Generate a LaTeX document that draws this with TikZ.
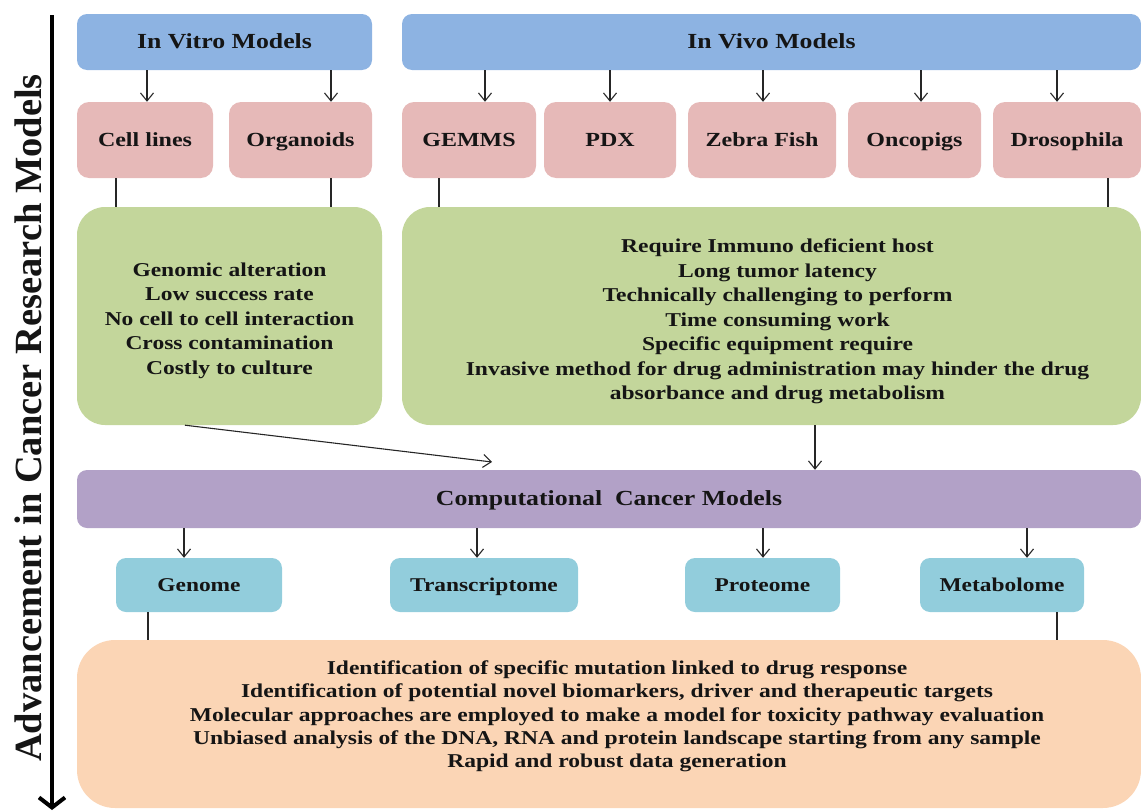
\documentclass[tikz,border=0pt]{standalone}
\usepackage{fontspec}
\setmainfont{Liberation Serif}[FakeStretch=1.2]
\newfontfamily\sidefont{Liberation Serif}
\usetikzlibrary{arrows.meta}
\definecolor{cblue}{HTML}{8DB3E2}
\definecolor{cpink}{HTML}{E6B9B8}
\definecolor{cgreen}{HTML}{C3D69B}
\definecolor{cpurple}{HTML}{B2A1C7}
\definecolor{ccyan}{HTML}{92CDDC}
\definecolor{corange}{HTML}{FBD5B5}
\definecolor{txt}{HTML}{151515}
\tikzset{
  box/.style={draw=none, inner sep=0pt, align=center, text=txt},
  oneline/.style={text height=13.6pt, text depth=0pt},
  titlebox/.style={box, oneline, rounded corners=10pt, fill=cblue, minimum height=56pt, font=\fontsize{21.5}{24}\selectfont\bfseries},
  modelbox/.style={box, oneline, rounded corners=12pt, fill=cpink, minimum height=76pt, font=\fontsize{20}{24}\selectfont\bfseries},
  notebox/.style={box, rounded corners=28pt, fill=cgreen, minimum height=218pt},
  notetext/.style={box, font=\fontsize{19.6}{24.5}\selectfont\bfseries},
  compbox/.style={box, oneline, rounded corners=10pt, fill=cpurple, minimum height=58pt, font=\fontsize{21.5}{24}\selectfont\bfseries},
  omicbox/.style={box, oneline, rounded corners=10pt, fill=ccyan, minimum height=54pt, font=\fontsize{19.5}{24}\selectfont\bfseries},
  outbox/.style={box, rounded corners=38pt, fill=corange, minimum height=168pt},
  outtext/.style={box, font=\fontsize{19.6}{23.3}\selectfont\bfseries},
  arr/.style={draw=black!85, line width=1.1pt, -{Straight Barb[length=8pt,width=13pt]}},
  link/.style={draw=black!85, line width=1.1pt},
}
\begin{document}
\begin{tikzpicture}[x=1pt,y=-1pt]
\useasboundingbox (0,0) rectangle (1141,811);
% side axis
\coordinate (axtop) at (52,15);
\coordinate (axbot) at (52,810);
\draw[line width=4pt, -{Straight Barb[length=10pt,width=26pt]}] (axtop) -- (axbot);
\node[rotate=90, anchor=base, inner sep=0pt, text=txt, font=\sidefont\fontsize{38.5}{40}\selectfont\bfseries] (side) at (41,418) {Advancement in Cancer Research Models};
% top row
\node[titlebox, minimum width=295pt] (vitro) at (224.5,42) {In Vitro Models};
\node[titlebox, minimum width=739pt] (vivo) at (771.5,42) {In Vivo Models};
% model boxes
\node[modelbox, minimum width=136pt] (cell) at (145,140) {Cell lines};
\node[modelbox, minimum width=143pt] (org) at (300.5,140) {Organoids};
\node[modelbox, minimum width=134pt] (gem) at (469,140) {GEMMS};
\node[modelbox, minimum width=132pt] (pdx) at (610,140) {PDX};
\node[modelbox, minimum width=148pt] (zeb) at (762,140) {Zebra Fish};
\node[modelbox, minimum width=133pt] (onc) at (914.5,140) {Oncopigs};
\node[modelbox, minimum width=148pt] (dro) at (1067,140) {Drosophila};
% arrows to models
\draw[arr] (vitro.south -| 147,0) -- (cell.north -| 147,0);
\draw[arr] (vitro.south -| 331,0) -- (org.north -| 331,0);
\draw[arr] (vivo.south -| 485,0) -- (gem.north -| 485,0);
\draw[arr] (vivo.south -| 610,0) -- (pdx.north -| 610,0);
\draw[arr] (vivo.south -| 763,0) -- (zeb.north -| 763,0);
\draw[arr] (vivo.south -| 921,0) -- (onc.north -| 921,0);
\draw[arr] (vivo.south -| 1057,0) -- (dro.north -| 1057,0);
% limitation boxes
\node[notebox, minimum width=305pt] (limL) at (229.5,316) {};
\node[notetext] (limLtext) at (229.5,320.5) {Genomic alteration\\Low success rate\\No cell to cell interaction\\Cross contamination\\Costly to culture};
\node[notebox, minimum width=739pt] (limR) at (771.5,316) {};
\node[notetext] (limRtext) at (777.5,321.5) {Require Immuno deficient host\\Long tumor latency\\Technically challenging to perform\\Time consuming work\\Specific equipment require\\Invasive method for drug administration may hinder the drug\\absorbance and drug metabolism};
\draw[link] (cell.south -| 116,0) -- (limL.north -| 116,0);
\draw[link] (org.south -| 331,0) -- (limL.north -| 331,0);
\draw[link] (gem.south -| 439,0) -- (limR.north -| 439,0);
\draw[link] (dro.south -| 1108,0) -- (limR.north -| 1108,0);
% computational
\node[compbox, minimum width=1064pt] (comp) at (609,499) {Computational~~Cancer Models};
\coordinate (mid) at (492,462);
\draw[arr] (limL.south -| 185,0) -- (mid);
\draw[arr] (limR.south -| 815,0) -- (comp.north -| 815,0);
% omics
\node[omicbox, minimum width=166pt] (geno) at (199,585) {Genome};
\node[omicbox, minimum width=188pt] (trans) at (484,585) {Transcriptome};
\node[omicbox, minimum width=155pt] (prot) at (762.5,585) {Proteome};
\node[omicbox, minimum width=164pt] (meta) at (1002,585) {Metabolome};
\draw[arr] (comp.south -| 184,0) -- (geno.north -| 184,0);
\draw[arr] (comp.south -| 477,0) -- (trans.north -| 477,0);
\draw[arr] (comp.south -| 763,0) -- (prot.north -| 763,0);
\draw[arr] (comp.south -| 1027,0) -- (meta.north -| 1027,0);
% outcomes
\node[outbox, minimum width=1064pt] (out) at (609,724) {};
\node[outtext] (outtxt) at (617,716.5) {Identification of specific mutation linked to drug response\\Identification of potential novel biomarkers, driver and therapeutic targets\\Molecular approaches are employed to make a model for toxicity pathway evaluation\\Unbiased analysis of the DNA, RNA and protein landscape starting from any sample\\Rapid and robust data generation};
\draw[link] (geno.south -| 148,0) -- (out.north -| 148,0);
\draw[link] (meta.south -| 1057,0) -- (out.north -| 1057,0);
\end{tikzpicture}
\end{document}
